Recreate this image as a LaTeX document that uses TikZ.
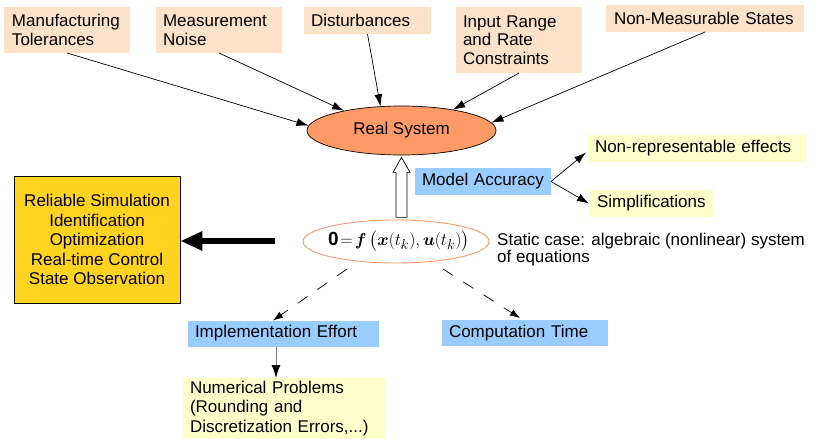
\documentclass[tikz,border=0pt]{standalone}
\usepackage{amsmath}
\usepackage{bm}
\usepackage{fontspec}
\setmainfont{Liberation Sans}
\usetikzlibrary{arrows.meta,shapes.geometric,calc}

\definecolor{peach}{HTML}{FDE2CA}
\definecolor{paleyellow}{HTML}{FFFFCC}
\definecolor{skyblue}{HTML}{99CCFF}
\definecolor{salmon}{HTML}{FF9966}
\definecolor{gold}{HTML}{FFD320}

\begin{document}
\begin{tikzpicture}[x=1pt,y=-1pt,
  font=\fontsize{17}{18.5}\selectfont,
  box/.style={inner ysep=0pt, outer sep=0pt, align=left},
  peachbox/.style={box, fill=peach},
  notebox/.style={box, fill=paleyellow},
  bluebox/.style={box, fill=skyblue},
  cause/.style={-{Latex[length=12pt,width=8pt]}, line width=0.7pt},
  effort/.style={-{Latex[length=10pt,width=7pt]}, line width=0.7pt, dash pattern=on 12pt off 12pt}]
\useasboundingbox (0,0) rectangle (816,439);

% disturbing influences
\node[peachbox, text width=110pt, inner xsep=8pt, minimum height=46pt] (mt) at (67,30) {Manufacturing\\Tolerances};
\node[peachbox, text width=112pt, inner xsep=7pt, minimum height=46pt] (mn) at (219,30) {Measurement\\Noise};
\node[peachbox, text width=113pt, inner xsep=7pt, minimum height=27pt] (di) at (367.5,20.5) {Disturbances};
\node[peachbox, text width=112pt, inner xsep=7pt, minimum height=66pt] (ir) at (519,40) {Input Range\\and Rate\\Constraints};
\node[peachbox, text width=182pt, inner xsep=8pt, minimum height=27pt] (nm) at (705,18.5) {Non-Measurable States};

% the plant
\node[ellipse, draw, line width=0.7pt, fill=salmon, minimum width=189pt, minimum height=49pt, inner sep=0pt] (rs) at (401.5,130.5) {Real System};

\draw[cause] (mt.south) -- (rs.177);
\draw[cause] (mn.south) -- (rs.161);
\draw[cause] (di.south) -- (rs.131);
\draw[cause] (ir.south) -- (rs.22);
\draw[cause] (nm.south) -- (rs.5);

% model accuracy
\node[bluebox, text width=122pt, inner xsep=7pt, minimum height=27pt] (ma) at (483,181.5) {Model Accuracy};
\node[notebox, text width=204pt, inner xsep=7pt, minimum height=27pt] (nr) at (697,148.5) {Non-representable effects};
\node[notebox, text width=109pt, inner xsep=7pt, minimum height=27pt] (si) at (651.5,203.5) {Simplifications};
\draw[cause] (ma.east) -- ($(nr.west)+(-2,4)$);
\draw[cause] (ma.east) -- ($(si.west)+(-1,0)$);

% the model equation (zero-width box keeps the ellipse at its own size)
\node[ellipse, draw=salmon, line width=0.9pt, minimum width=186pt, minimum height=43pt, inner sep=0pt] (eq) at (396,241.5)
  {\makebox[0pt][l]{\hspace{-68pt}\fontsize{19}{22}\selectfont$\mathbf{0}\!=\!\bm{f}\,\bigl(\bm{x}(t_k),\bm{u}(t_k)\bigr)$}};
\node[anchor=north west, align=left, inner sep=0pt, font=\fontsize{17}{17}\selectfont] (st) at (497,233) {Static case: algebraic (nonlinear) system\\of equations};

% hollow arrow from the model up to the plant
\coordinate (ht) at ($(rs.south)+(0,2)$);
\draw[fill=white, line width=0.7pt] (ht) -- ++(8.5,15) -- ++(-3,0) -- ++(0,45) -- ++(-11,0) -- ++(0,-45) -- ++(-3,0) -- cycle;

% applications
\node[draw, line width=0.7pt, fill=gold, minimum width=166pt, minimum height=127pt, align=center, inner sep=0pt,
  font=\fontsize{17}{19.5}\selectfont] (ap) at (97,239.5)
  {Reliable Simulation\\Identification\\Optimization\\Real-time Control\\State Observation};
\coordinate (th) at (275,241);
\draw[line width=6pt, -{Triangle[length=22pt,width=18pt]}] (th) -- (th -| ap.east);

% cost of solving
\node[bluebox, text width=177pt, inner xsep=7pt, minimum height=26pt] (ie) at (283.5,333.5) {Implementation Effort};
\node[bluebox, text width=152pt, inner xsep=7pt, minimum height=26pt] (ct) at (525,333) {Computation Time};
\node[notebox, text width=188pt, inner xsep=7pt, minimum height=61pt, font=\fontsize{17}{19.5}\selectfont] (np) at (284,408.5)
  {Numerical Problems\\(Rounding and\\Discretization Errors,...)};

\draw[effort] ($(eq.center)+(-49,27.5)$) -- ($(ie.north)+(-10.5,0)$);
\draw[effort] ($(eq.center)+(47,27.5)$) -- ($(ct.north)+(-5,-2)$);
\draw[gray, line width=1pt, -{Latex[black,length=13pt,width=9pt]}] ($(ie.south)+(-7.5,0)$) -- ($(np.north)+(-8,0)$);
\end{tikzpicture}
\end{document}
